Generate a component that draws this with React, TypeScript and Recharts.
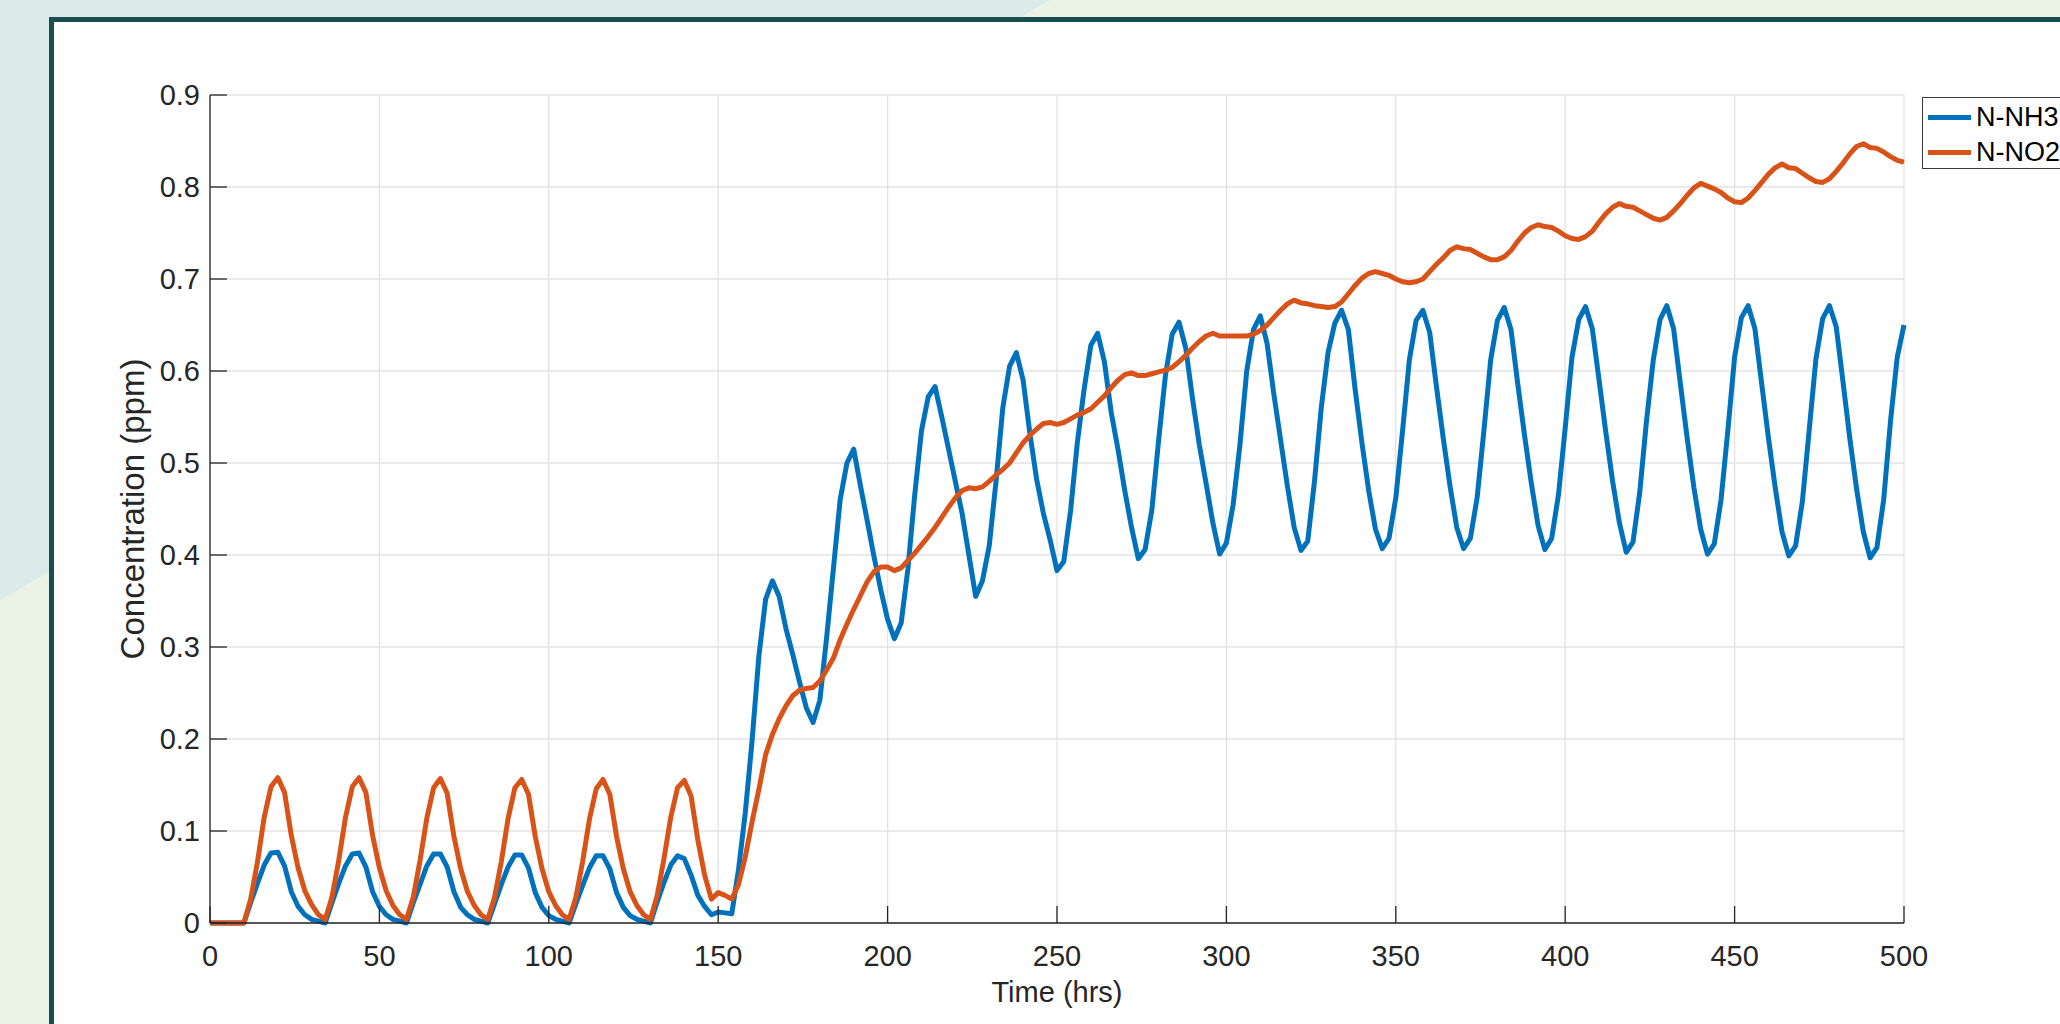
import { LineChart, Line, XAxis, YAxis, CartesianGrid, Label } from 'recharts';

// sampled every 2 hrs, t = 0 .. 500
const STEP_HRS = 2;

const NH3 = [
  0, 0, 0, 0, 0, 0,
  0.022, 0.043, 0.063, 0.076, 0.077, 0.062, 0.034, 0.018, 0.009, 0.004, 0.002, 0.000,
  0.022, 0.043, 0.062, 0.075, 0.076, 0.061, 0.034, 0.018, 0.009, 0.004, 0.002, 0.000,
  0.022, 0.042, 0.062, 0.075, 0.075, 0.061, 0.034, 0.017, 0.009, 0.004, 0.002, 0.000,
  0.021, 0.042, 0.061, 0.074, 0.074, 0.060, 0.033, 0.017, 0.008, 0.004, 0.002, 0.000,
  0.021, 0.041, 0.060, 0.073, 0.073, 0.059, 0.033, 0.017, 0.008, 0.004, 0.002, 0.000,
  0.023, 0.044, 0.063, 0.073, 0.070, 0.052, 0.030, 0.018, 0.009, 0.012,
  0.011, 0.010, 0.058, 0.120, 0.198, 0.290, 0.352, 0.372, 0.355, 0.320, 0.292, 0.262,
  0.234, 0.218, 0.242, 0.310, 0.385, 0.460, 0.500, 0.515, 0.475, 0.437, 0.398, 0.362,
  0.330, 0.309, 0.326, 0.385, 0.465, 0.535, 0.572, 0.583, 0.550, 0.515, 0.480, 0.445,
  0.400, 0.355, 0.372, 0.410, 0.480, 0.560, 0.605, 0.620, 0.590, 0.532, 0.482, 0.445,
  0.416, 0.383, 0.393, 0.448, 0.522, 0.580, 0.628, 0.641, 0.610, 0.555, 0.515, 0.470,
  0.430, 0.396, 0.406, 0.449, 0.525, 0.595, 0.640, 0.653, 0.625, 0.570, 0.520, 0.478,
  0.435, 0.401, 0.413, 0.455, 0.520, 0.600, 0.645, 0.660, 0.630, 0.575, 0.525, 0.475,
  0.430, 0.405, 0.415, 0.480, 0.560, 0.620, 0.652, 0.666, 0.645, 0.580, 0.522, 0.470,
  0.428, 0.407, 0.418, 0.462, 0.535, 0.612, 0.655, 0.666, 0.642, 0.583, 0.527, 0.475,
  0.430, 0.407, 0.418, 0.462, 0.535, 0.612, 0.655, 0.669, 0.645, 0.586, 0.530, 0.478,
  0.432, 0.406, 0.418, 0.465, 0.538, 0.615, 0.656, 0.670, 0.646, 0.590, 0.533, 0.480,
  0.435, 0.403, 0.414, 0.468, 0.546, 0.612, 0.656, 0.671, 0.646, 0.586, 0.527, 0.473,
  0.428, 0.401, 0.412, 0.460, 0.535, 0.615, 0.658, 0.671, 0.646, 0.586, 0.527, 0.473,
  0.425, 0.399, 0.410, 0.458, 0.535, 0.613, 0.657, 0.671, 0.648, 0.588, 0.527, 0.472,
  0.425, 0.397, 0.408, 0.460, 0.545, 0.615, 0.650,
];

const NO2 = [
  0, 0, 0, 0, 0, 0,
  0.026, 0.066, 0.115, 0.148, 0.158, 0.142, 0.095, 0.060, 0.035, 0.020, 0.009, 0.004,
  0.028, 0.068, 0.115, 0.148, 0.158, 0.142, 0.095, 0.060, 0.035, 0.019, 0.009, 0.004,
  0.028, 0.068, 0.114, 0.147, 0.157, 0.141, 0.094, 0.059, 0.034, 0.019, 0.009, 0.004,
  0.028, 0.067, 0.114, 0.147, 0.156, 0.140, 0.094, 0.059, 0.034, 0.019, 0.009, 0.004,
  0.028, 0.067, 0.113, 0.146, 0.156, 0.140, 0.094, 0.059, 0.034, 0.019, 0.009, 0.004,
  0.030, 0.070, 0.115, 0.147, 0.155, 0.138, 0.090, 0.052, 0.026, 0.033,
  0.030, 0.026, 0.042, 0.072, 0.110, 0.145, 0.183, 0.205, 0.222, 0.236, 0.247, 0.253,
  0.255, 0.256, 0.263, 0.275, 0.288, 0.308, 0.325, 0.341, 0.356, 0.371, 0.382, 0.387,
  0.387, 0.383, 0.386, 0.394, 0.402, 0.411, 0.420, 0.430, 0.441, 0.452, 0.462, 0.470,
  0.473, 0.472, 0.474, 0.480, 0.487, 0.493, 0.500, 0.511, 0.522, 0.530, 0.537, 0.543,
  0.544, 0.542, 0.544, 0.548, 0.552, 0.555, 0.559, 0.566, 0.573, 0.582, 0.590, 0.596,
  0.598, 0.595, 0.595, 0.597, 0.599, 0.601, 0.604, 0.610, 0.617, 0.625, 0.632, 0.638,
  0.641, 0.638, 0.638, 0.638, 0.638, 0.638, 0.640, 0.644, 0.650, 0.658, 0.666, 0.673,
  0.677, 0.674, 0.673, 0.671, 0.670, 0.669, 0.670, 0.675, 0.684, 0.693, 0.701, 0.706,
  0.708, 0.706, 0.704, 0.700, 0.697, 0.696, 0.697, 0.700, 0.708, 0.716, 0.723, 0.731,
  0.735, 0.733, 0.732, 0.728, 0.724, 0.721, 0.721, 0.724, 0.731, 0.741, 0.750, 0.756,
  0.759, 0.757, 0.756, 0.752, 0.747, 0.744, 0.743, 0.746, 0.752, 0.762, 0.771, 0.778,
  0.782, 0.779, 0.778, 0.774, 0.770, 0.766, 0.764, 0.767, 0.774, 0.782, 0.791, 0.799,
  0.804, 0.801, 0.798, 0.794, 0.788, 0.784, 0.783, 0.788, 0.796, 0.805, 0.814, 0.821,
  0.825, 0.821, 0.820, 0.815, 0.810, 0.806, 0.805, 0.809, 0.817, 0.826, 0.836, 0.844,
  0.847, 0.843, 0.842, 0.838, 0.833, 0.829, 0.827,
];

const X_TICKS = [0, 50, 100, 150, 200, 250, 300, 350, 400, 450, 500];
const Y_TICKS = [0, 0.1, 0.2, 0.3, 0.4, 0.5, 0.6, 0.7, 0.8, 0.9];

const SERIES = [
  { key: 'nh3', name: 'N-NH3', color: '#0072BD' },
  { key: 'no2', name: 'N-NO2', color: '#D95319' },
];

const data = NH3.map((v, i) => ({ t: i * STEP_HRS, nh3: v, no2: NO2[i] }));

const FONT = '"Liberation Sans", Arial, Helvetica, sans-serif';
const AXIS = '#262626';
const TICK_LEN = 17;
const TICK_GAP = 10;
const X_GAP = 22;

const YTick = ({ x, y, payload }: any) => (
  <g>
    <line x1={x + TICK_GAP} x2={x + TICK_GAP + TICK_LEN} y1={y} y2={y} stroke={AXIS} strokeWidth={1.3} />
    <text x={x} y={y} dy="0.36em" textAnchor="end" fill={AXIS} fontSize={29} fontFamily={FONT}>
      {String(payload.value)}
    </text>
  </g>
);

const XTick = ({ x, y, payload }: any) => (
  <g>
    <line x1={x} x2={x} y1={y - X_GAP} y2={y - X_GAP - TICK_LEN} stroke={AXIS} strokeWidth={1.3} />
    <text x={x} y={y} dy="0.71em" textAnchor="middle" fill={AXIS} fontSize={29} fontFamily={FONT}>
      {String(payload.value)}
    </text>
  </g>
);

export default function App() {
  return (
    <div
      style={{
        position: 'absolute',
        left: 0,
        top: 0,
        width: 2060,
        height: 1024,
        overflow: 'hidden',
        background: '#ebf2e6',
        fontFamily: FONT,
      }}
    >
      <svg width={2060} height={1024} style={{ position: 'absolute', left: 0, top: 0 }}>
        <polygon points="0,0 1050,0 0,600" fill="#dcebea" />
      </svg>
      <div
        style={{
          position: 'absolute',
          left: 49,
          top: 17,
          width: 2100,
          height: 1100,
          background: '#ffffff',
          border: '5px solid #184e50',
        }}
      />
      <div style={{ position: 'absolute', left: 0, top: 0 }}>
        <LineChart width={2060} height={1024} data={data} margin={{ top: 95, right: 156, bottom: 1, left: 130 }}>
          <CartesianGrid stroke="#e3e3e3" strokeWidth={1.3} />
          <XAxis
            dataKey="t"
            type="number"
            domain={[0, 500]}
            ticks={X_TICKS}
            height={100}
            tickSize={0}
            tickMargin={X_GAP}
            tick={<XTick />}
            axisLine={{ stroke: AXIS, strokeWidth: 1.3 }}
            tickLine={false}
            interval={0}
          >
            <Label
              value="Time (hrs)"
              position="insideBottom"
              offset={21}
              fill={AXIS}
              fontSize={29}
              fontFamily={FONT}
            />
          </XAxis>
          <YAxis
            type="number"
            domain={[0, 0.9]}
            ticks={Y_TICKS}
            width={80}
            tickSize={0}
            tickMargin={TICK_GAP}
            tick={<YTick />}
            axisLine={{ stroke: AXIS, strokeWidth: 1.3 }}
            tickLine={false}
            interval={0}
          >
            <Label
              content={() => (
                <text
                  transform="translate(144, 509) rotate(-90)"
                  textAnchor="middle"
                  fill={AXIS}
                  fontSize={33}
                  fontFamily={FONT}
                >
                  Concentration (ppm)
                </text>
              )}
            />
          </YAxis>
          {SERIES.map((s) => (
            <Line
              key={s.key}
              type="linear"
              dataKey={s.key}
              name={s.name}
              stroke={s.color}
              strokeWidth={5}
              strokeLinejoin="round"
              dot={false}
              activeDot={false}
              isAnimationActive={false}
            />
          ))}
        </LineChart>
      </div>
      <div
        style={{
          position: 'absolute',
          left: 1922,
          top: 97,
          width: 200,
          height: 72,
          boxSizing: 'border-box',
          border: '1.5px solid #3a3a3a',
          background: '#ffffff',
        }}
      >
        {SERIES.map((s, i) => (
          <div
            key={s.key}
            style={{ position: 'absolute', left: 5, top: 2 + i * 35, height: 34, display: 'flex', alignItems: 'center' }}
          >
            <div style={{ width: 43, height: 5, background: s.color }} />
            <span style={{ marginLeft: 5, fontSize: 27, color: '#000', lineHeight: '34px', whiteSpace: 'nowrap' }}>
              {s.name}
            </span>
          </div>
        ))}
      </div>
    </div>
  );
}
